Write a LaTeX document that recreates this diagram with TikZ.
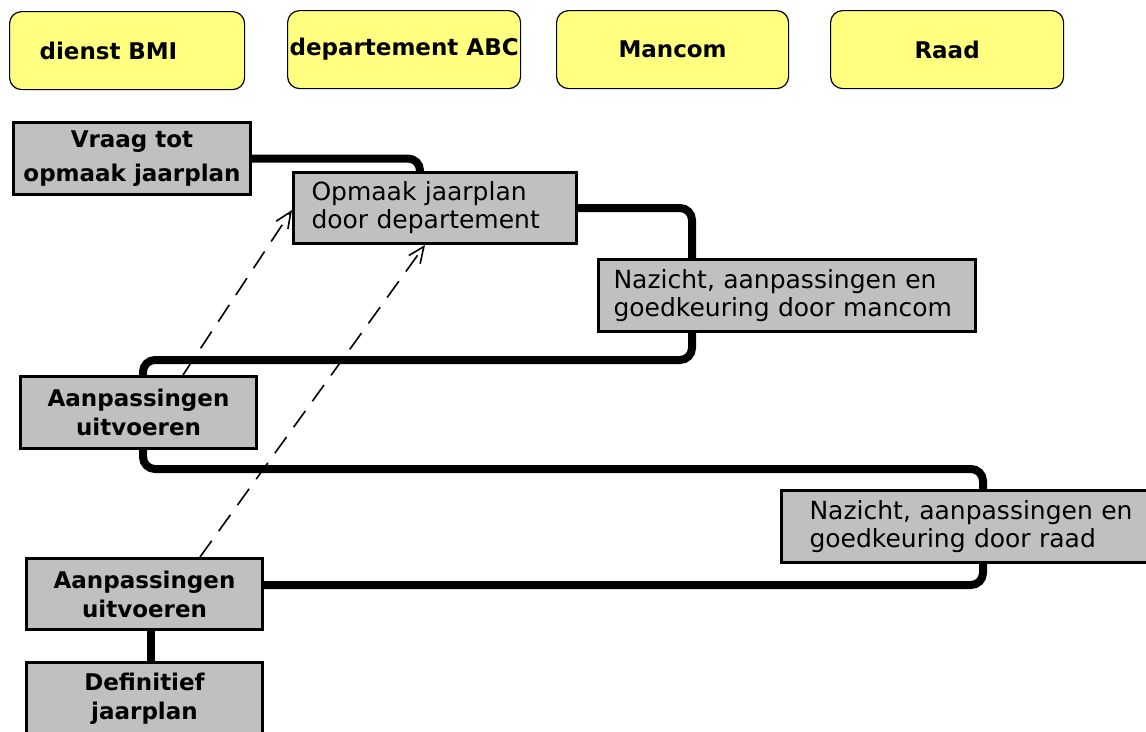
\documentclass[tikz,border=0pt]{standalone}
\usepackage{fontspec}
\setmainfont{DejaVu Sans}
\usepackage{tikz}
\usetikzlibrary{arrows.meta}

\definecolor{laneyellow}{RGB}{255,255,128}
\definecolor{boxgray}{RGB}{192,192,192}

\begin{document}
\begin{tikzpicture}[
        x=1pt, y=-1pt,
        lane/.style={
          draw,
          fill=laneyellow,
          line width=1.2pt,
          rounded corners=12pt,
          anchor=north west,
          minimum height=78pt,
          inner xsep=0pt,
          font=\bfseries\fontsize{23}{28}\selectfont
          },
        stepbox/.style={
          draw,
          fill=boxgray,
          line width=3pt,
          anchor=north west,
          minimum height=72pt,
          inner xsep=0pt,
          align=center,
          font=\bfseries\fontsize{23}{29}\selectfont
          },
        notebox/.style={
          stepbox,
          align=left,
          font=\fontsize{25}{28}\selectfont
          },
        flow/.style={
          line width=8pt,
          rounded corners=12pt
          },
        feedback/.style={
          ->,
          line width=1.6pt,
          dash pattern=on 20pt off 12pt
          },
        >={Straight Barb[length=16pt,width=14pt]}
        ]
        \useasboundingbox (0,0) rectangle (1146,731);
        % headers
        \node[lane, minimum width=235pt, text width=175pt, inner xsep=30pt, align=left] (hbmi) at (9,11) {dienst BMI};
        \node[lane, minimum width=233pt] (habc) at (287,10) {departement ABC};
        \node[lane, minimum width=232pt] (hmancom) at (556,10) {Mancom};
        \node[lane, minimum width=233pt] (hraad) at (830,10) {Raad};
        % steps
        \node[stepbox, minimum width=237pt, font=\bfseries\fontsize{23}{34}\selectfont] (vraag) at (12,121) {Vraag tot\\opmaak jaarplan};
        \node[notebox, text width=247pt, inner xsep=18pt, minimum height=71pt] (opmaak) at (292,171) {Opmaak jaarplan\\door departement};
        \node[notebox, text width=347pt, inner xsep=15pt] (nazm) at (597,258) {Nazicht, aanpassingen en\\goedkeuring door mancom};
        \node[stepbox, minimum width=236pt] (aanp1) at (19,375) {Aanpassingen\\uitvoeren};
        \node[notebox, text width=344pt, inner xsep=28pt] (nazr) at (780,489) {Nazicht, aanpassingen en\\goedkeuring door raad};
        \node[stepbox, minimum width=236pt, minimum height=71pt] (aanp2) at (25,557) {Aanpassingen\\uitvoeren};
        \node[stepbox, minimum width=236pt] (def) at (25,661) {Definitief\\jaarplan};
        % main flow
        \draw[flow] (vraag.east) -| ([xshift=-15pt]opmaak.north);
        \draw[flow] (opmaak.east) -| ([xshift=95pt]nazm.north west);
        \draw[flow] ([xshift=95pt]nazm.south west) -- ++(0,27) -| ([xshift=124pt]aanp1.north west);
        \draw[flow] ([xshift=124pt]aanp1.south west) -- ++(0,19) -| ([xshift=203pt]nazr.north west);
        \draw[flow] ([xshift=203pt]nazr.south west) |- ([yshift=9pt]aanp2.east);
        \draw[flow] ([xshift=126pt]aanp2.south west) -- ([xshift=126pt]def.north west);
        % back to the department
        \draw[feedback] ([xshift=164pt]aanp1.north west) -- ([yshift=-2pt]opmaak.west);
        \draw[feedback] ([xshift=175pt]aanp2.north west) -- ([xshift=-10pt]opmaak.south);
\end{tikzpicture}
\end{document}
